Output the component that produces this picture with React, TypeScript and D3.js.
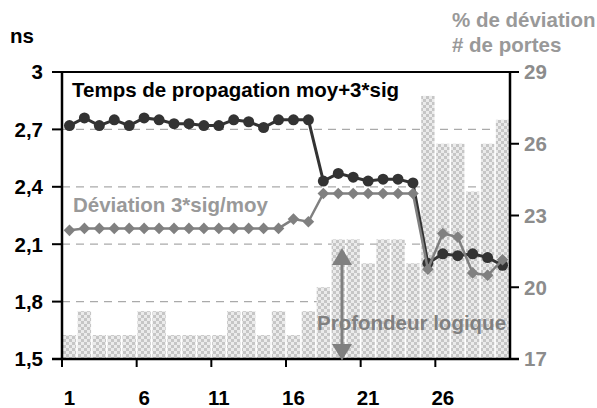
import React from "react";
import * as d3 from "d3";

const categories = Array.from({ length: 30 }, (_, i) => String(i + 1));
const xTickLabels = ["1", "6", "11", "16", "21", "26"];
const leftTicks = [1.5, 1.8, 2.1, 2.4, 2.7, 3.0];
const rightTicks = [17, 20, 23, 26, 29];

const temps = [
  2.72, 2.76, 2.72, 2.75, 2.72, 2.76, 2.75, 2.73, 2.73, 2.72,
  2.72, 2.75, 2.74, 2.71, 2.75, 2.75, 2.75, 2.43, 2.47, 2.45,
  2.43, 2.44, 2.44, 2.42, 2.0, 2.05, 2.04, 2.05, 2.03, 1.99,
];
const deviation = [
  22.38, 22.46, 22.46, 22.46, 22.46, 22.46, 22.46, 22.46, 22.46, 22.46,
  22.46, 22.46, 22.46, 22.46, 22.46, 22.85, 22.74, 23.92, 23.92, 23.92,
  23.92, 23.92, 23.92, 23.92, 20.75, 22.25, 22.1, 20.6, 20.5, 21.15,
];
const profondeur = [
  18, 19, 18, 18, 18, 19, 19, 18, 18, 18,
  18, 19, 19, 18, 19, 18, 19, 20, 22, 22,
  21, 22, 22, 21, 28, 26, 26, 24, 26, 27,
];

const W = 597;
const H = 408;
const L = 62, R = 510, T = 72, B = 359;
const FONT = "'Liberation Sans', Arial, Helvetica, sans-serif";
const FS = 20.5;

export default function App() {
  const x = d3.scaleBand<string>().domain(categories).range([L, R]).padding(0);
  const yL = d3.scaleLinear().domain([1.5, 3]).range([B, T]);
  const yR = d3.scaleLinear().domain([17, 29]).range([B, T]);
  const cx = (i: number) => (x(categories[i]) as number) + x.bandwidth() / 2;

  const lineL = d3.line<number>().x((_, i) => cx(i)).y((d) => yL(d));
  const lineR = d3.line<number>().x((_, i) => cx(i)).y((d) => yR(d));

  const boundaryTicks = [0, 5, 10, 15, 20, 25].map((i) => x(categories[i]) as number);

  return (
    <svg
      width={W}
      height={H}
      style={{ position: "absolute", left: 0, top: 0, background: "#fff" }}
      fontFamily={FONT}
      fontWeight="bold"
    >
      <defs>
        <pattern id="chk" width="6" height="6" patternUnits="userSpaceOnUse">
          <rect width="6" height="6" fill="#ebebeb" />
          <rect width="3" height="3" fill="#c6c6c6" />
          <rect x="3" y="3" width="3" height="3" fill="#c6c6c6" />
        </pattern>
      </defs>
      <rect width={W} height={H} fill="#fff" />

      {/* gridlines */}
      {leftTicks.slice(1, -1).map((t) => (
        <line key={t} x1={L} x2={R} y1={yL(t)} y2={yL(t)} stroke="#aaa" strokeWidth={1.2} strokeDasharray="8,6" />
      ))}

      {/* bars */}
      {profondeur.map((v, i) => (
        <rect
          key={i}
          x={(x(categories[i]) as number) + 0.8}
          width={x.bandwidth() - 1.6}
          y={yR(v)}
          height={yR(17) - yR(v)}
          fill="url(#chk)"
        />
      ))}

      {/* temps line */}
      <path d={lineL(temps) || ""} fill="none" stroke="#333" strokeWidth={3} />
      {temps.map((v, i) => (
        <circle key={i} cx={cx(i)} cy={yL(v)} r={5.5} fill="#333" />
      ))}

      {/* deviation line */}
      <path d={lineR(deviation) || ""} fill="none" stroke="#808080" strokeWidth={2.5} />
      {deviation.map((v, i) => (
        <path key={i} transform={`translate(${cx(i)},${yR(v)})`} d="M0,-5.8L5.8,0L0,5.8L-5.8,0Z" fill="#808080" />
      ))}

      {/* frame */}
      <line x1={L - 10} x2={R + 9} y1={T} y2={T} stroke="#000" strokeWidth={2} />
      <line x1={L} x2={L} y1={T} y2={B} stroke="#000" strokeWidth={2.5} />
      <line x1={R} x2={R} y1={T} y2={B} stroke="#000" strokeWidth={2.5} />
      <line x1={L - 10} x2={R + 9} y1={B} y2={B} stroke="#000" strokeWidth={2.5} />

      {/* left ticks */}
      {leftTicks.map((t) => (
        <g key={t}>
          <line x1={L - 10} x2={L} y1={yL(t)} y2={yL(t)} stroke="#000" strokeWidth={2} />
          <text x={43} y={yL(t)} dy="0.36em" textAnchor="end" fontSize={FS} fill="#000">
            {d3.format(".1f")(t).replace(".", ",").replace(/,0$/, "")}
          </text>
        </g>
      ))}
      {/* right ticks */}
      {rightTicks.map((t) => (
        <g key={t}>
          <line x1={R} x2={R + 9} y1={yR(t)} y2={yR(t)} stroke="#000" strokeWidth={2} />
          <text x={524} y={yR(t)} dy="0.36em" textAnchor="start" fontSize={FS} fill="#8c8c8c">
            {t}
          </text>
        </g>
      ))}
      {/* bottom ticks */}
      {boundaryTicks.map((bx, i) => (
        <line key={i} x1={bx} x2={bx} y1={B} y2={B + 8} stroke="#000" strokeWidth={2} />
      ))}
      {xTickLabels.map((lab) => (
        <text key={lab} x={cx(categories.indexOf(lab))} y={405} textAnchor="middle" fontSize={FS} fill="#000">
          {lab}
        </text>
      ))}

      {/* axis titles */}
      <text x={10} y={43} fontSize={FS} fill="#000">ns</text>
      <text x={452} y={27} fontSize={FS} fill="#999">% de déviation</text>
      <text x={452} y={52} fontSize={FS} fill="#999">#  de portes</text>

      {/* series labels */}
      <text x={72} y={97} fontSize={FS} fill="#000">Temps de propagation moy+3*sig</text>
      <text x={73} y={212} fontSize={FS} fill="#999">Déviation 3*sig/moy</text>

      {/* arrow */}
      <line x1={342} x2={342} y1={262} y2={348} stroke="#808080" strokeWidth={3} />
      <path d="M342,248L332,265L352,265Z" fill="#808080" />
      <path d="M342,360.5L332,344L352,344Z" fill="#808080" />
      <text x={317} y={330} fontSize={FS} fill="#808080">Profondeur logique</text>
    </svg>
  );
}
